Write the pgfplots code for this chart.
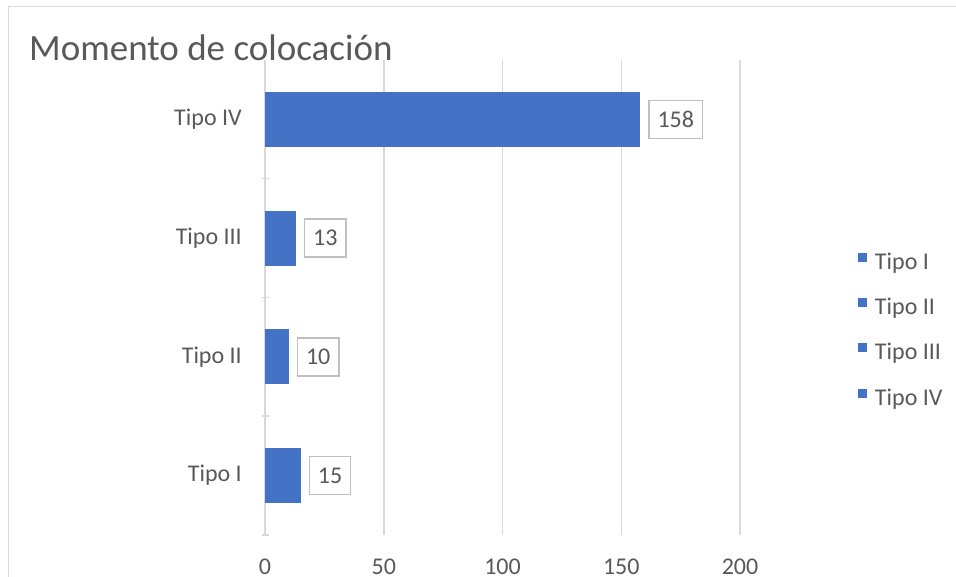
\documentclass[border=0pt]{standalone}
\usepackage{pgfplots}
\pgfplotsset{compat=1.18}
\usepackage{fontspec}
\setmainfont{Carlito}
\definecolor{barblue}{HTML}{4472C4}
\definecolor{txtgray}{HTML}{595959}
\definecolor{gridgray}{HTML}{D9D9D9}
\definecolor{boxgray}{HTML}{BFBFBF}
\begin{document}
\begin{tikzpicture}
\useasboundingbox (0,0) rectangle (956pt,577pt);
\clip (0,0) rectangle (956pt,577pt);
\fill[white] (0,0) rectangle (956pt,577pt);
% chart frame
\draw[gridgray, line width=1.5pt] (8.5pt,-5pt) -- (8.5pt,570.5pt) -- (962pt,570.5pt);
% title
\node[anchor=base west, inner sep=0pt, text=txtgray, font=\fontsize{37}{43}\selectfont]
  at (29pt,516pt) {Momento de colocación};
\begin{axis}[
  at={(265pt,42pt)}, anchor=south west,
  scale only axis, width=475pt, height=475pt,
  xbar, bar width=55pt,
  xmin=0, xmax=200, ymin=-0.5, ymax=3.5,
  clip=false,
  xtick={0,50,100,150,200},
  ytick={0,1,2,3}, yticklabels={Tipo I,Tipo II,Tipo III,Tipo IV},
  minor ytick={-0.5,0.5,1.5,2.5},
  major tick length=0pt, minor tick length=7pt, tick align=outside,
  major tick style={draw=none},
  minor tick style={draw=gridgray, line width=1.5pt},
  axis x line=bottom, axis y line=left,
  axis line style={-},
  x axis line style={draw=none},
  y axis line style={draw=gridgray, line width=1.5pt},
  xmajorgrids,
  major grid style={draw=gridgray, line width=1.5pt},
  /pgf/number format/assume math mode=true,
  tick label style={font=\fontsize{24}{28}\selectfont, text=txtgray},
  xticklabel style={inner sep=0pt, anchor=north, yshift=-24pt},
  yticklabel style={inner sep=0pt, anchor=east, xshift=-23pt},
  nodes near coords,
  nodes near coords style={anchor=west, xshift=8pt, draw=boxgray, line width=1.5pt,
    fill=white, text=txtgray, font=\fontsize{24}{28}\selectfont,
    inner xsep=8.5pt, inner ysep=0pt, minimum height=38pt},
  legend image code/.code={\fill[barblue] (0pt,1.5pt) rectangle (9pt,10.5pt);},
  legend cell align=left,
  legend style={at={(1.2484,0.5952)}, anchor=north west, draw=none, fill=none,
    inner sep=0pt, outer sep=0pt, row sep=23.3pt,
    font=\fontsize{24}{28}\selectfont, text=txtgray,
    nodes={inner sep=0pt, text height=17pt, text depth=5pt},
    /tikz/every odd column/.append style={column sep=8pt}},
]
\addplot[fill=barblue, draw=none, bar shift=0pt] coordinates {(15,0)};
\addlegendentry{Tipo I}
\addplot[fill=barblue, draw=none, bar shift=0pt] coordinates {(10,1)};
\addlegendentry{Tipo II}
\addplot[fill=barblue, draw=none, bar shift=0pt] coordinates {(13,2)};
\addlegendentry{Tipo III}
\addplot[fill=barblue, draw=none, bar shift=0pt] coordinates {(158,3)};
\addlegendentry{Tipo IV}
\end{axis}
\end{tikzpicture}
\end{document}
